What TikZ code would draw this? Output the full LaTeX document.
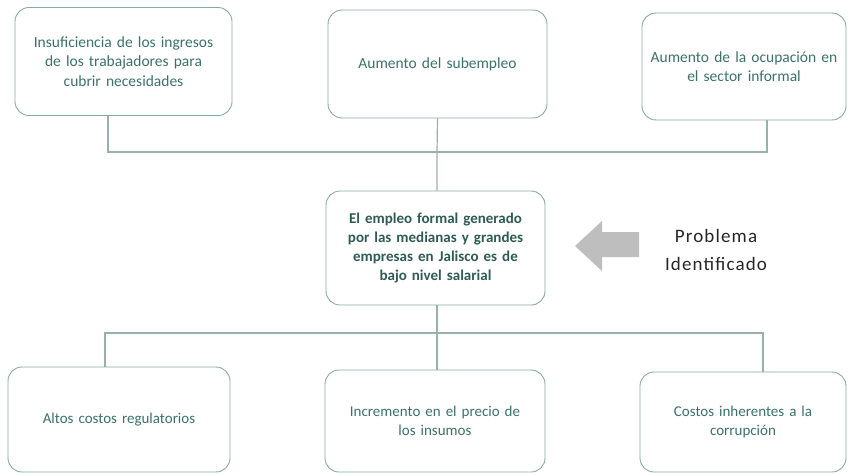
\documentclass[tikz,border=0pt]{standalone}
\usepackage{fontspec}
\setmainfont{Carlito}
\usepackage{tikz}
\usetikzlibrary{positioning,calc}
\definecolor{boxline}{HTML}{86ABA2}
\definecolor{boxtext}{HTML}{3A7365}
\definecolor{linkline}{HTML}{98B2AB}
\definecolor{arrowgray}{HTML}{BEBEBE}
\tikzstyle{box} = [draw=boxline,line width=0.9pt,rounded corners=14pt,align=center,text=boxtext,font=\fontsize{15.5}{19.5}\selectfont,inner sep=2pt]
\tikzstyle{link} = [draw=linkline,line width=1.2pt]
\tikzset{>=latex}

\begin{document}
\begin{tikzpicture}[x=1pt,y=-1pt]
    \useasboundingbox (0,0) rectangle (848,474);

    \node [box,minimum width=217pt,minimum height=108pt,text width=210pt] (tl) at (123.5,61.5)
        {Insuficiencia de los ingresos\\de los trabajadores para\\cubrir necesidades};
    \node [box,minimum width=219pt,minimum height=108pt,text width=210pt] (tm) at (437.5,64)
        {Aumento del subempleo};
    \node [box,minimum width=204pt,minimum height=107pt,text width=200pt] (tr) at (744,66.5)
        {Aumento de la ocupación en\\el sector informal};

    \node [box,minimum width=219pt,minimum height=114pt,text width=210pt,font=\fontsize{15}{19}\selectfont\bfseries,text=boxtext!80!black] (prob) at (435.5,248)
        {El empleo formal generado\\por las medianas y grandes\\empresas en Jalisco es de\\bajo nivel salarial};

    \node [box,minimum width=222pt,minimum height=105pt,text width=210pt,font=\fontsize{15}{19.5}\selectfont] (bl) at (119,419.5)
        {Altos costos regulatorios};
    \node [box,minimum width=220pt,minimum height=102pt,text width=210pt,font=\fontsize{15}{19.5}\selectfont] (bm) at (435,421)
        {Incremento en el precio de\\los insumos};
    \node [box,minimum width=206pt,minimum height=100pt,text width=200pt,font=\fontsize{15}{19.5}\selectfont] (br) at (743,422)
        {Costos inherentes a la\\corrupción};

    \node [align=center,font=\fontsize{19}{28}\selectfont\addfontfeatures{LetterSpace=6},text=black!85] (lbl) at (716,250)
        {Problema\\Identificado};

    \coordinate (top) at (437,152);
    \coordinate (bot) at (437,333);

    \draw [link] ([xshift=-15.5pt]tl.south) |- (top) -| ([xshift=23pt]tr.south);
    \draw [link] (tm.south) -- (top) -- (prob.north -| top);
    \draw [link] (prob.south -| bot) -- (bot);
    \draw [link] ([xshift=-14pt]bl.north) |- (bot) -| ([xshift=20pt]br.north);
    \draw [link] (bot) -- (bm.north -| bot);

    \fill [arrowgray] (575,246) -- (602,221) -- (602,232) -- (639,232)
        -- (639,257) -- (602,257) -- (602,271) -- cycle;
\end{tikzpicture}
\end{document}
